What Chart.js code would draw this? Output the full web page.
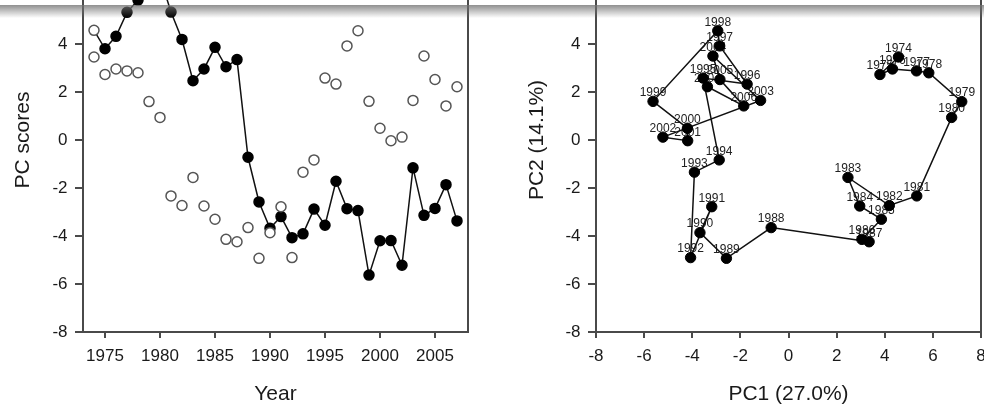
<!DOCTYPE html>
<html><head><meta charset="utf-8">
<script src="https://cdn.jsdelivr.net/npm/chart.js@4.4.1/dist/chart.umd.min.js"></script>
<style>
html,body{margin:0;padding:0;width:984px;height:407px;overflow:hidden;background:#fff;}
#c1{position:absolute;left:0;top:-70px;}
#c2{position:absolute;left:500px;top:-70px;}
#shade{position:absolute;left:0;top:5px;width:984px;height:13px;background:linear-gradient(to bottom, rgba(115,115,115,0.8), rgba(255,255,255,0));pointer-events:none;}
</style></head><body>
<canvas id="c1" width="490" height="477"></canvas>
<canvas id="c2" width="500" height="477"></canvas>
<div id="shade"></div>
<script>
const years = [1974,1975,1976,1977,1978,1979,1980,1981,1982,1983,1984,1985,1986,1987,1988,1989,1990,
  1991,1992,1993,1994,1995,1996,1997,1998,1999,2000,2001,2002,2003,2004,2005,2006,2007];
const pc1 = [4.57,3.80,4.32,5.32,5.83,7.20,6.78,5.33,4.19,2.47,2.96,3.86,3.05,3.35,-0.72,-2.58,-3.68,
  -3.19,-4.07,-3.91,-2.88,-3.55,-1.72,-2.86,-2.94,-5.63,-4.20,-4.19,-5.22,-1.16,-3.14,-2.85,-1.86,-3.37];
const pc2 = [3.46,2.73,2.96,2.88,2.80,1.60,0.94,-2.33,-2.73,-1.56,-2.75,-3.30,-4.14,-4.24,-3.65,-4.93,-3.86,
  -2.78,-4.90,-1.34,-0.83,2.58,2.33,3.92,4.55,1.61,0.49,-0.03,0.12,1.65,3.50,2.52,1.42,2.22];
const yearTicks = [1975,1980,1985,1990,1995,2000,2005];
const scoreTicks = [-8,-6,-4,-2,0,2,4];
const pcTicks = [-8,-6,-4,-2,0,2,4,6,8];

const FONT = "'Liberation Sans', Arial, sans-serif";
const AXIS = '#4a4a4a';
const TXT = '#1a1a1a';

const framePlugin = {
  id: 'frame',
  afterDraw(chart) {
    const {ctx, chartArea: a} = chart;
    ctx.save();
    ctx.strokeStyle = AXIS; ctx.lineWidth = 2;
    ctx.beginPath();
    ctx.moveTo(Math.round(a.right), a.top);
    ctx.lineTo(Math.round(a.right), a.bottom + 1);
    ctx.stroke();
    ctx.restore();
  }
};

const yearLabelPlugin = {
  id: 'yearLabels',
  beforeDatasetsDraw(chart) {
    const {ctx} = chart;
    const meta = chart.getDatasetMeta(0);
    ctx.save();
    ctx.font = "12px " + FONT;
    ctx.fillStyle = '#222';
    ctx.textAlign = 'center';
    ctx.textBaseline = 'middle';
    meta.data.forEach((p, i) => ctx.fillText(String(years[i]), p.x, p.y - 8.5));
    ctx.restore();
  }
};

function fixTicks(list) {
  return function(scale) { scale.ticks = list.map(v => ({value: v})); };
}
function gridOpts(tl) {
  return {display: true, drawOnChartArea: false, drawTicks: true, tickLength: tl, color: AXIS, lineWidth: 2};
}
const borderOpts = {display: true, color: AXIS, width: 2};

const tickFont = {family: FONT, size: 17};
const titleFont = {family: FONT, size: 21};

// Left chart: PC scores by year
new Chart(document.getElementById('c1'), {
  type: 'scatter',
  data: {
    datasets: [
      {
        label: 'PC2',
        data: years.map((y, i) => ({x: y, y: pc2[i]})),
        showLine: false,
        pointRadius: 5,
        pointBorderWidth: 1.5,
        pointBorderColor: '#555',
        pointBackgroundColor: '#fff'
      },
      {
        label: 'PC1',
        data: years.map((y, i) => ({x: y, y: pc1[i]})),
        showLine: true,
        borderColor: '#111',
        borderWidth: 1.5,
        tension: 0,
        pointRadius: 5,
        pointBorderWidth: 1.5,
        pointBorderColor: years.map((y, i) => i === 0 ? '#555' : '#000'),
        pointBackgroundColor: years.map((y, i) => i === 0 ? '#fff' : '#000')
      }
    ]
  },
  options: {
    responsive: false,
    animation: false,
    layout: {padding: {top: 18, right: 22, left: 0, bottom: 0}},
    plugins: {legend: {display: false}, tooltip: {enabled: false}},
    scales: {
      x: {
        type: 'linear', min: 1973, max: 2008,
        grid: gridOpts(6), border: borderOpts,
        afterBuildTicks: fixTicks(yearTicks),
        afterFit(s) { s.height = 75; },
        ticks: {font: tickFont, color: TXT, padding: 8.5, maxRotation: 0, autoSkip: false, callback: v => String(v)},
        title: {display: true, text: 'Year', font: titleFont, color: TXT, padding: {top: 0, bottom: 0}}
      },
      y: {
        type: 'linear', min: -8, max: 8,
        grid: gridOpts(8), border: borderOpts,
        afterBuildTicks: fixTicks(scoreTicks),
        afterFit(s) { s.width = 83; },
        ticks: {font: tickFont, color: TXT, padding: 7.5, autoSkip: false, callback: v => String(v)},
        title: {display: true, text: 'PC scores', font: titleFont, color: TXT, padding: {top: 10.8, bottom: 0}}
      }
    }
  },
  plugins: [framePlugin]
});

// Right chart: PC1 vs PC2 trajectory
new Chart(document.getElementById('c2'), {
  type: 'scatter',
  data: {
    datasets: [
      {
        label: 'trajectory',
        data: years.map((y, i) => ({x: pc1[i], y: pc2[i]})),
        showLine: true,
        borderColor: '#111',
        borderWidth: 1.5,
        tension: 0,
        pointRadius: 5.2,
        pointBorderWidth: 1,
        pointBorderColor: '#000',
        pointBackgroundColor: '#000'
      }
    ]
  },
  options: {
    responsive: false,
    animation: false,
    layout: {padding: {top: 18, right: 19, left: 0, bottom: 0}},
    plugins: {legend: {display: false}, tooltip: {enabled: false}},
    scales: {
      x: {
        type: 'linear', min: -8, max: 8,
        grid: gridOpts(6), border: borderOpts,
        afterBuildTicks: fixTicks(pcTicks),
        afterFit(s) { s.height = 75; },
        ticks: {font: tickFont, color: TXT, padding: 8.5, maxRotation: 0, autoSkip: false, callback: v => String(v)},
        title: {display: true, text: 'PC1 (27.0%)', font: titleFont, color: TXT, padding: {top: 0, bottom: 0}}
      },
      y: {
        type: 'linear', min: -8, max: 8,
        grid: gridOpts(8), border: borderOpts,
        afterBuildTicks: fixTicks(scoreTicks),
        afterFit(s) { s.width = 96; },
        ticks: {font: tickFont, color: TXT, padding: 7.5, autoSkip: false, callback: v => String(v)},
        title: {display: true, text: 'PC2 (14.1%)', font: titleFont, color: TXT, padding: {top: 24.6, bottom: 0}}
      }
    }
  },
  plugins: [framePlugin, yearLabelPlugin]
});
</script>
</body></html>
